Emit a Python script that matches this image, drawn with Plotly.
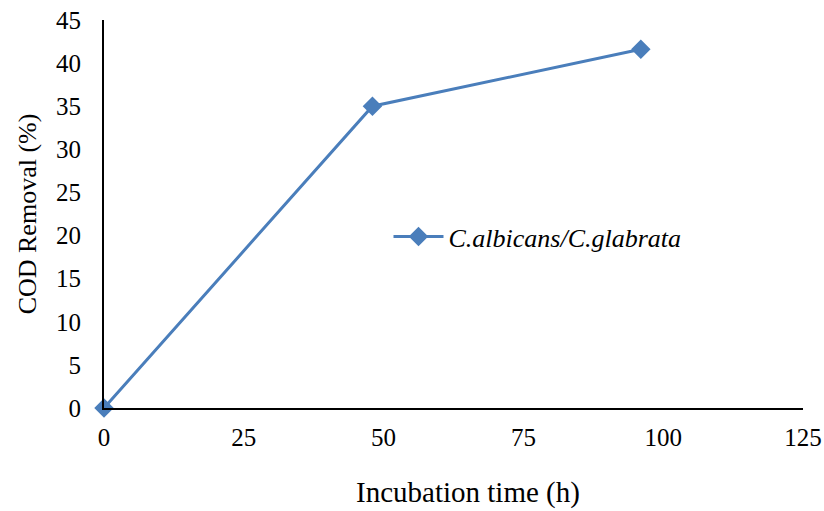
import plotly.graph_objects as go

time_h = [0, 48, 96]
cod_removal = [0, 35, 41.6]
series_name = "C.albicans/C.glabrata"
x_ticks = [0, 25, 50, 75, 100, 125]
y_ticks = [0, 5, 10, 15, 20, 25, 30, 35, 40, 45]
x_title = "Incubation time (h)"
y_title = "COD Removal (%)"

color = "#4a7ebb"
FAM = "Liberation Serif"

fig = go.Figure()
fig.add_trace(go.Scatter(
    x=time_h, y=cod_removal, mode="lines+markers", name="<i>" + series_name + "</i>",
    line=dict(color=color, width=3),
    marker=dict(symbol="diamond", size=15, color=color),
    cliponaxis=False,
))

fig.update_layout(
    width=824, height=511,
    margin=dict(l=104, r=21, t=20, b=103),
    paper_bgcolor="white", plot_bgcolor="white",
    font=dict(family=FAM, size=25, color="black"),
    showlegend=True,
    legend=dict(x=0.407, y=0.442, xanchor="left", yanchor="middle",
                bgcolor="rgba(0,0,0,0)", itemwidth=50,
                font=dict(family=FAM, size=26, color="black")),
)
fig.add_annotation(
    text=x_title, xref="paper", yref="paper", x=0.521, y=-0.219,
    xanchor="center", yanchor="middle", showarrow=False,
    font=dict(family=FAM, size=29, color="black"),
)
fig.update_xaxes(
    range=[0, 125], tickvals=x_ticks, showgrid=False, zeroline=False,
    showline=True, linecolor="black", linewidth=2, ticks="", ticklabelstandoff=6,
    automargin=False,
    tickfont=dict(family=FAM, size=25, color="black"),
)
fig.update_yaxes(
    range=[0, 45], tickvals=y_ticks, showgrid=False, zeroline=False,
    showline=True, linecolor="black", linewidth=2, ticks="", ticklabelstandoff=16,
    automargin=False,
    tickfont=dict(family=FAM, size=25, color="black"),
    title=dict(text=y_title, standoff=12,
               font=dict(family=FAM, size=26, color="black")),
)

fig.write_html("out.html")
